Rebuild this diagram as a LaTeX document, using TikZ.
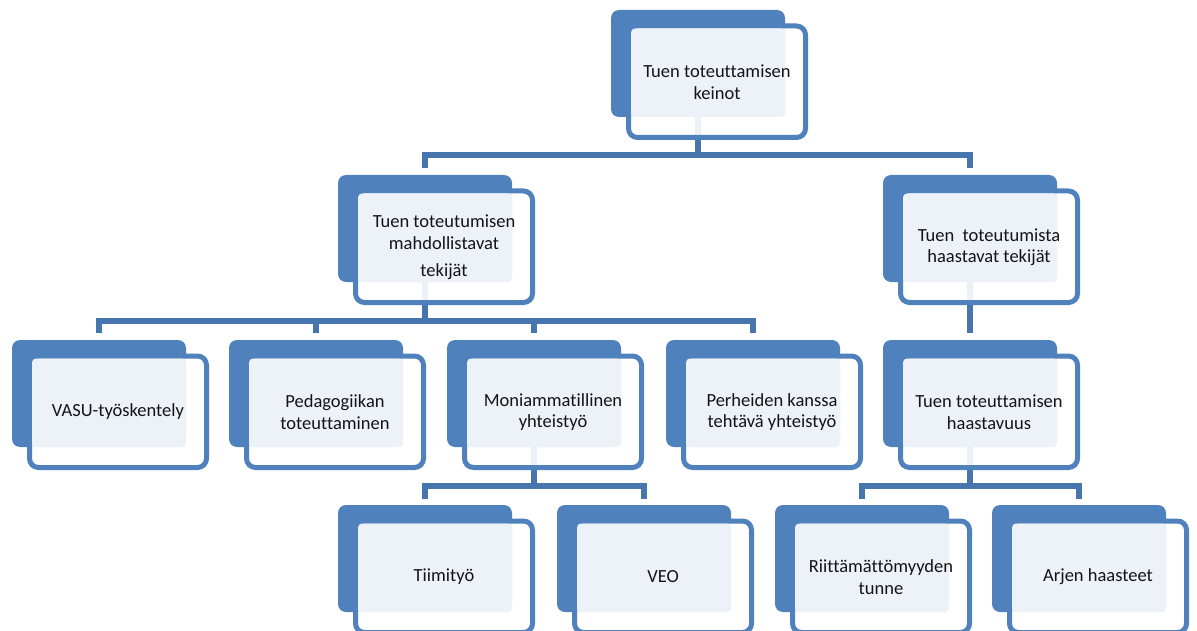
\documentclass[tikz,border=0pt]{standalone}
\usepackage{fontspec}
\setmainfont{Carlito}[Ligatures=NoCommon]
\definecolor{accent}{HTML}{4F81BD}
\definecolor{panelc}{HTML}{EDF1F8}
\definecolor{connc}{HTML}{4775AE}
\definecolor{txt}{HTML}{141414}
\tikzset{
  backbox/.style={fill=accent, rounded corners=8pt, minimum width=174pt, minimum height=107pt, anchor=north west, inner sep=0pt, outer sep=0pt},
  frontbox/.style={draw=accent, line width=5pt, fill=white, fill opacity=0.9, rounded corners=9pt, minimum width=177pt, minimum height=111.5pt, anchor=north west, inner sep=0pt, outer sep=0pt},
  panelbox/.style={fill=panelc, rounded corners=4pt, minimum width=154pt, minimum height=88.5pt, anchor=north west, inner sep=0pt, outer sep=0pt},
  label/.style={text=txt, align=center, font=\fontsize{18.5}{21.5}\selectfont, inner sep=0pt},
  conn/.style={draw=connc, line width=5.5pt},
}
\newcommand\orgback[3]{\node[backbox] (#1) at (#2,#3) {};}
\newcommand\orgfront[4]{%
  \node[frontbox] (#1f) at (#2+17.5,#3+16) {};
  \node[panelbox] (#1p) at (#2+20,#3+18.5) {};
  \node[label] (#1t) at (#2+106,#3+72) {#4};}
\begin{document}
\begin{tikzpicture}[x=1pt,y=-1pt]
\useasboundingbox (0,0) rectangle (1197,631);
\clip (0,0) rectangle (1197,631);
\fill[white] (0,0) rectangle (1197,631);
% back boxes
\orgback{top}{611}{10}
\orgback{ma}{338}{175}
\orgback{ha}{883}{175}
\orgback{vasu}{12}{340}
\orgback{ped}{229}{340}
\orgback{moni}{447}{340}
\orgback{perh}{666}{340}
\orgback{haas}{883}{340}
\orgback{tiimi}{338}{505}
\orgback{veo}{557}{505}
\orgback{riit}{775}{505}
\orgback{arje}{992}{505}
% connectors
\draw[conn] (top.south) -- ++(0,38) coordinate (j1);
\draw[conn] (j1) -| ([yshift=7pt]ma.north);
\draw[conn] (j1) -| ([yshift=7pt]ha.north);
\draw[conn] (ma.south) -- ++(0,39) coordinate (j2);
\draw[conn] (j2) -| ([yshift=7pt]vasu.north);
\draw[conn] (j2) -| ([yshift=7pt]ped.north);
\draw[conn] (j2) -| ([yshift=7pt]moni.north);
\draw[conn] (j2) -| ([yshift=7pt]perh.north);
\draw[conn] (ha.south) -- ([yshift=7pt]haas.north);
\draw[conn] (moni.south) -- ++(0,39) coordinate (j3);
\draw[conn] (j3) -| ([yshift=6pt]tiimi.north);
\draw[conn] (j3) -| ([yshift=6pt]veo.north);
\draw[conn] (haas.south) -- ++(0,39) coordinate (j4);
\draw[conn] (j4) -| ([yshift=6pt]riit.north);
\draw[conn] (j4) -| ([yshift=6pt]arje.north);
% front boxes with text
\orgfront{top}{611}{10}{Tuen toteuttamisen\\keinot}
\orgfront{ma}{338}{175}{Tuen toteutumisen\\mahdollistavat\\[5.5pt]tekijät}
\orgfront{ha}{883}{175}{Tuen\ \ toteutumista\\haastavat tekijät}
\orgfront{vasu}{12}{340}{VASU-työskentely}
\orgfront{ped}{229}{340}{Pedagogiikan\\toteuttaminen}
\orgfront{moni}{447}{340}{Moniammatillinen\\yhteistyö}
\orgfront{perh}{666}{340}{Perheiden kanssa\\tehtävä yhteistyö}
\orgfront{haas}{883}{340}{Tuen toteuttamisen\\haastavuus}
\orgfront{tiimi}{338}{505}{Tiimityö}
\orgfront{veo}{557}{505}{VEO}
\orgfront{riit}{775}{505}{Riittämättömyyden\\tunne}
\orgfront{arje}{992}{505}{Arjen haasteet}
\end{tikzpicture}
\end{document}
